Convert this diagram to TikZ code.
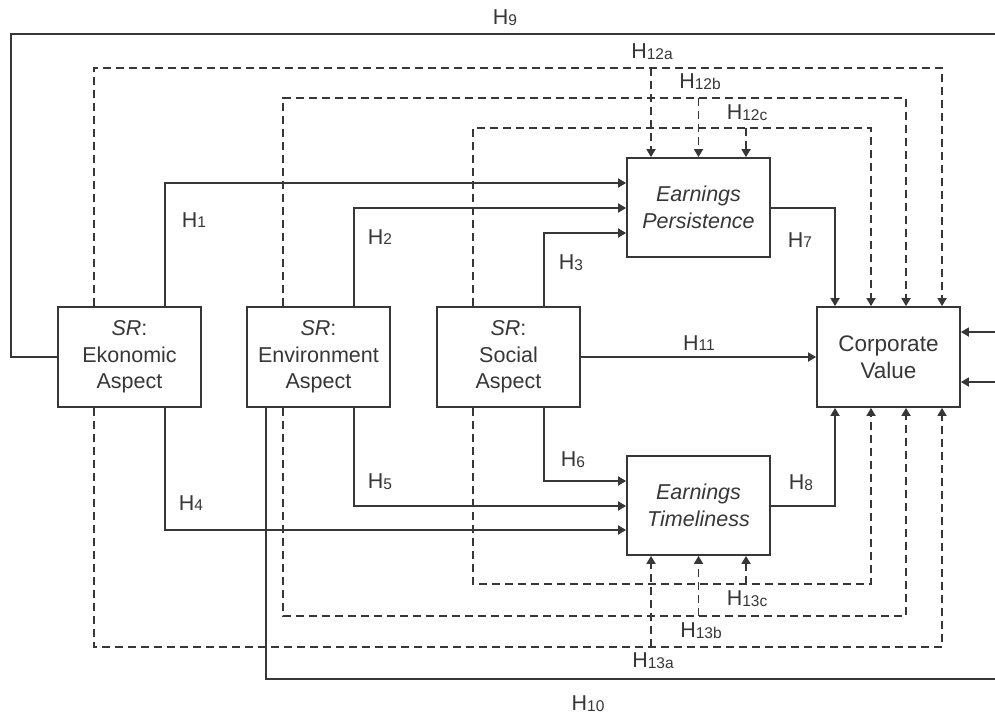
\documentclass[tikz,border=0pt]{standalone}
\usepackage{fontspec}
\setmainfont{Liberation Sans}
\usetikzlibrary{arrows.meta}
\definecolor{ink}{RGB}{55,55,55}
\newcommand\hsub[1]{H{\fontsize{15.5}{16}\selectfont\raisebox{-0.8pt}{#1}}}
\tikzset{
  box/.style={draw=ink, line width=1.8pt, minimum width=143pt, minimum height=100pt, align=center, inner sep=0pt, text=ink, font=\fontsize{21.5}{26.5}\selectfont},
  conn/.style={draw=ink, line width=1.7pt, -{Triangle[length=8pt,width=9pt]}},
  dsh/.style={dash pattern=on 8pt off 5pt},
  lbl/.style={text=ink, font=\fontsize{21.5}{24}\selectfont, inner sep=0pt}
}
\begin{document}
\begin{tikzpicture}[x=1pt,y=-1pt]
\useasboundingbox[fill=white] (0,0) rectangle (995,715);
\begin{scope}
\clip (0,0) rectangle (995,715);
% boxes
\node[box] (eko) at (129.5,357) {\textit{SR}:\\Ekonomic\\Aspect};
\node[box] (env) at (318.5,357) {\textit{SR}:\\Environment\\Aspect};
\node[box] (soc) at (508.5,357) {\textit{SR}:\\Social\\Aspect};
\node[box, font=\fontsize{22.5}{27}\selectfont] (cv) at (888.5,357) {Corporate\\Value};
\node[box, minimum height=99pt] (per) at (698.5,207.5) {\textit{Earnings}\\\textit{Persistence}};
\node[box, minimum height=99pt] (tim) at (698.5,505.5) {\textit{Earnings}\\\textit{Timeliness}};

% solid connectors
\draw[conn] ([xshift=35.5pt]eko.north) |- (per.west |- 0,183);
\draw[conn] ([xshift=35.5pt]env.north) |- (per.west |- 0,208);
\draw[conn] ([xshift=35.5pt]soc.north) |- (per.west |- 0,233);
\draw[conn] ([xshift=35.5pt]eko.south) |- (tim.west |- 0,530);
\draw[conn] ([xshift=35.5pt]env.south) |- (tim.west |- 0,506);
\draw[conn] ([xshift=35.5pt]soc.south) |- (tim.west |- 0,481);
\draw[conn] (per.east |- 0,208) -| ([xshift=-53.5pt]cv.north);
\draw[conn] (tim.east |- 0,506) -| ([xshift=-53.5pt]cv.south);
\draw[conn] (soc.east) -- (cv.west);
% H9 and H10 (leave the page on the right and come back)
\draw[conn] (eko.west) -| (11,34) -- (1005,34) |- (cv.east |- 0,332);
\draw[conn] ([xshift=-52.5pt]env.south) |- (1005,679) |- (cv.east |- 0,382);

% dashed: top
\draw[conn,dsh] ([xshift=-35.5pt]eko.north) |- ([xshift=53.5pt]cv.north |- 0,68) -- ([xshift=53.5pt]cv.north);
\draw[conn,dsh] ([xshift=-35.5pt]env.north) |- ([xshift=17.5pt]cv.north |- 0,98) -- ([xshift=17.5pt]cv.north);
\draw[conn,dsh] ([xshift=-35.5pt]soc.north) |- ([xshift=-17.5pt]cv.north |- 0,128) -- ([xshift=-17.5pt]cv.north);
\draw[conn,dsh] ([xshift=-47.5pt]per.north |- 0,68) -- ([xshift=-47.5pt]per.north);
\draw[conn,dsh] (per.north |- 0,98) -- (per.north);
\draw[conn,dsh] ([xshift=47.5pt]per.north |- 0,128) -- ([xshift=47.5pt]per.north);
% dashed: bottom
\draw[conn,dsh] ([xshift=-35.5pt]eko.south) |- ([xshift=53.5pt]cv.south |- 0,647) -- ([xshift=53.5pt]cv.south);
\draw[conn,dsh] ([xshift=-35.5pt]env.south) |- ([xshift=17.5pt]cv.south |- 0,616) -- ([xshift=17.5pt]cv.south);
\draw[conn,dsh] ([xshift=-35.5pt]soc.south) |- ([xshift=-17.5pt]cv.south |- 0,584) -- ([xshift=-17.5pt]cv.south);
\draw[conn,dsh] ([xshift=-47.5pt]tim.south |- 0,647) -- ([xshift=-47.5pt]tim.south);
\draw[conn,dsh] (tim.south |- 0,616) -- (tim.south);
\draw[conn,dsh] ([xshift=47.5pt]tim.south |- 0,584) -- ([xshift=47.5pt]tim.south);
\end{scope}

% labels
\node[lbl] (h1) at (194,220) {\hsub{1}};
\node[lbl] (h2) at (380,237) {\hsub{2}};
\node[lbl] (h3) at (571,263) {\hsub{3}};
\node[lbl] (h4) at (191,503) {\hsub{4}};
\node[lbl] (h5) at (380,482) {\hsub{5}};
\node[lbl] (h6) at (573,460) {\hsub{6}};
\node[lbl] (h7) at (800,240) {\hsub{7}};
\node[lbl] (h8) at (801,483) {\hsub{8}};
\node[lbl] (h9) at (505,18) {\hsub{9}};
\node[lbl] (h10) at (588,704) {\hsub{10}};
\node[lbl] (h11) at (699,343) {\hsub{11}};
\node[lbl] (h12a) at (652,52) {\hsub{12a}};
\node[lbl] (h12b) at (700,82) {\hsub{12b}};
\node[lbl] (h12c) at (747,113) {\hsub{12c}};
\node[lbl] (h13c) at (747,599) {\hsub{13c}};
\node[lbl] (h13b) at (701,631) {\hsub{13b}};
\node[lbl] (h13a) at (653,661) {\hsub{13a}};
\end{tikzpicture}
\end{document}
